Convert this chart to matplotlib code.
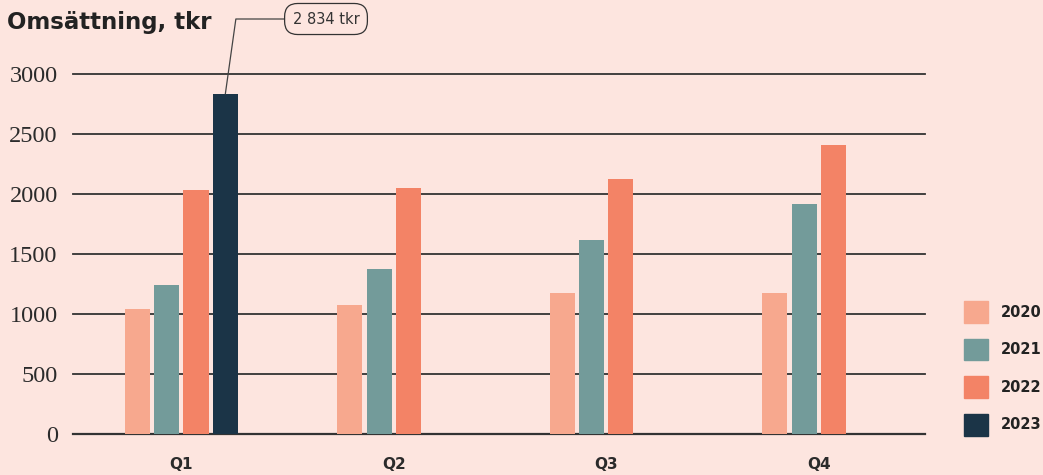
import numpy as np
import matplotlib.pyplot as plt

quarters = ["Q1", "Q2", "Q3", "Q4"]
years = ["2020", "2021", "2022", "2023"]
v2020 = [1035, 1070, 1170, 1170]
v2021 = [1237, 1370, 1618, 1918]
v2022 = [2030, 2046, 2127, 2410]
v2023 = [2834, np.nan, np.nan, np.nan]
yticks = [0, 500, 1000, 1500, 2000, 2500, 3000]
colors = ["#F7A88E", "#739B9A", "#F38366", "#1B3447"]
bg = "#FDE5DF"

fig = plt.figure(figsize=(10.43, 4.75), dpi=100, facecolor=bg)
ax = fig.add_axes([73 / 1043, 41.5 / 475, 852 / 1043, 359.5 / 475])
ax.set_facecolor(bg)

x = np.arange(len(quarters))
width = 0.118
step = 0.138
series = [v2020, v2021, v2022, v2023]
for i, vals in enumerate(series):
    ax.bar(x + (i - 1.5) * step, vals, width, color=colors[i], label=years[i], zorder=3)

ax.set_xlim(-0.51, 3.5)
ax.set_ylim(0, 3000)
for t in yticks:
    ax.axhline(t, color="#333333", lw=1.3 if t else 1.6, zorder=2, clip_on=False)

for s in ax.spines.values():
    s.set_visible(False)
ax.set_yticks(yticks)
ax.set_yticklabels([str(t) for t in yticks], fontfamily="Liberation Serif",
                   fontsize=17.5, color="#2b2b2b")
ax.set_xticks(x)
ax.set_xticklabels(quarters, fontfamily="DejaVu Sans", fontweight="bold",
                   fontsize=11, color="#2b2b2b")
ax.tick_params(axis="both", length=0)
ax.tick_params(axis="y", pad=11)
ax.tick_params(axis="x", pad=17)

fig.text(7 / 1043, 1 - 22 / 475, "Omsättning, tkr", fontfamily="DejaVu Sans",
         fontweight="heavy", fontsize=16.5, color="#222222", va="center", ha="left")

ax.annotate("2 834 tkr", xy=(0 + 1.5 * step, v2023[0]), xycoords="data",
            xytext=(326 / 1043, 1 - 19 / 475), textcoords="figure fraction",
            ha="center", va="center", fontsize=10.5, color="#333333",
            fontfamily="DejaVu Sans",
            bbox=dict(boxstyle="round,pad=0.55,rounding_size=0.9", fc=bg,
                      ec="#333333", lw=0.9),
            arrowprops=dict(arrowstyle="-", color="#444444", lw=0.9,
                            connectionstyle="angle,angleA=0,angleB=82,rad=0",
                            shrinkA=0, shrinkB=0),
            annotation_clip=False)

handles = [plt.Rectangle((0, 0), 1, 1, color=c) for c in colors]
leg = fig.legend(handles, years, loc="upper left",
                 bbox_to_anchor=(951 / 1043, 1 - 288 / 475),
                 frameon=False, handlelength=1.65, handleheight=1.9,
                 labelspacing=1.1, handletextpad=0.85,
                 prop=dict(family="DejaVu Sans", weight="bold", size=10.5))
for t in leg.get_texts():
    t.set_color("#222222")

fig.savefig("out.png", dpi=100, facecolor=bg)
